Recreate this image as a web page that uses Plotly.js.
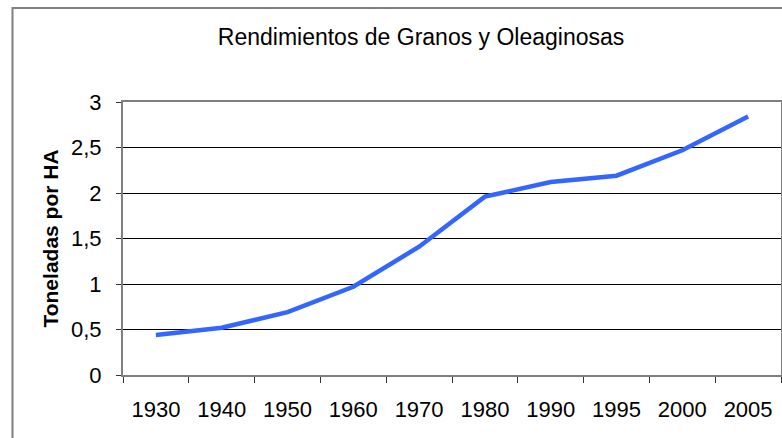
<!DOCTYPE html>
<html>
<head>
<meta charset="utf-8">
<script src="https://cdn.plot.ly/plotly-3.0.1.min.js"></script>
<style>html,body{margin:0;padding:0;background:#fff;}#chart{width:782px;height:438px;}</style>
</head>
<body>
<div id="chart"></div>
<script>
var years = ["1930","1940","1950","1960","1970","1980","1990","1995","2000","2005"];
var rendimientos = [0.44, 0.52, 0.69, 0.97, 1.41, 1.96, 2.12, 2.19, 2.47, 2.84];
var yTickVals = [0, 0.5, 1, 1.5, 2, 2.5, 3];
var yTickText = ["0", "0,5", "1", "1,5", "2", "2,5", "3"];

var font = "Liberation Sans, Arial, sans-serif";

var trace = {
  x: years,
  y: rendimientos,
  type: "scatter",
  mode: "lines",
  line: {color: "#3366FF", width: 4.5},
  hoverinfo: "x+y"
};

var layout = {
  width: 782,
  height: 438,
  margin: {l: 123, r: 1, t: 102, b: 63},
  paper_bgcolor: "#ffffff",
  plot_bgcolor: "#ffffff",
  showlegend: false,
  separators: ",.",
  font: {family: font, color: "#000", size: 22},
  title: {
    text: "Rendimientos de Granos y Oleaginosas",
    font: {family: font, size: 23, color: "#000"},
    x: 0.453, xanchor: "center",
    y: 0.915, yanchor: "middle",
    xref: "paper", yref: "container"
  },
  xaxis: {
    type: "category",
    range: [-0.5, 9.5],
    tickson: "boundaries",
    ticks: "outside",
    ticklen: 6,
    tickcolor: "#333",
    tickwidth: 1,
    showgrid: false,
    showline: true,
    linecolor: "#7f7f7f",
    linewidth: 2,
    mirror: true,
    tickfont: {family: font, size: 22, color: "#000"},
    ticklabelstandoff: 14,
    fixedrange: true
  },
  yaxis: {
    range: [0, 3],
    tickvals: yTickVals,
    ticktext: yTickText,
    ticks: "outside",
    ticklen: 5,
    tickcolor: "#333",
    showgrid: true,
    gridcolor: "#000",
    gridwidth: 1,
    zeroline: false,
    showline: true,
    linecolor: "#7f7f7f",
    linewidth: 2,
    mirror: true,
    tickfont: {family: font, size: 22, color: "#000"},
    ticklabelstandoff: 10,
    title: {
      text: "<b>Toneladas por HA</b>",
      font: {family: font, size: 21, color: "#000"},
      standoff: 7
    },
    fixedrange: true
  },
  shapes: [{
    type: "rect", xref: "paper", yref: "paper",
    x0: (12.5 - 123) / 658, x1: 1.1,
    y0: -0.5, y1: 1 + (102 - 8) / 273,
    line: {color: "#7f7f7f", width: 2},
    fillcolor: "rgba(0,0,0,0)",
    layer: "below"
  }]
};

Plotly.newPlot("chart", [trace], layout, {displayModeBar: false, staticPlot: true});
</script>
</body>
</html>
